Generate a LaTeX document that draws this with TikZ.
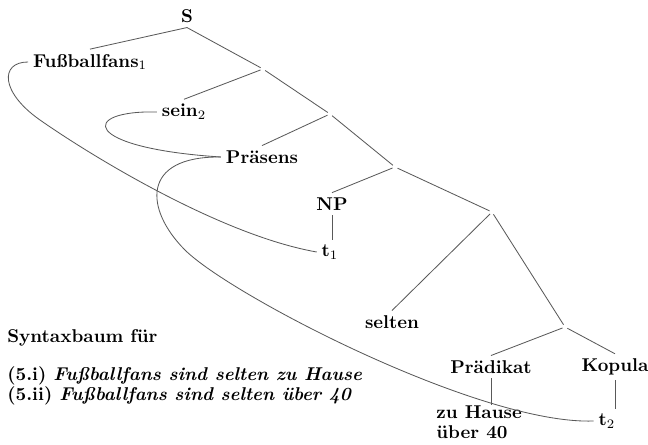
\documentclass[tikz,border=0pt]{standalone}
\begin{document}
\begin{tikzpicture}[x=0.54pt,y=-0.54pt,
  lbl/.style={inner sep=2.5pt,font=\bfseries},
  bp/.style={circle,inner sep=0pt,minimum size=2.5pt},
  edge/.style={draw=black!65,line width=0.45pt},
  mv/.style={draw=black!65,line width=0.45pt},
  captxt/.style={anchor=base west,inner sep=0pt,font=\bfseries}]
\useasboundingbox (0,0) rectangle (648,445);
% tree nodes
\node[lbl] (S) at (187,16) {S};
\node[lbl] (fans) at (90,62) {Fußballfans$_1$};
\node[bp] (n1) at (263,69) {};
\node[lbl] (sein) at (184,112) {sein$_2$};
\node[bp] (n2) at (330,114) {};
\node[lbl] (praes) at (262,157) {Präsens};
\node[bp] (n3) at (395,167) {};
\node[lbl] (NP) at (332,204) {NP};
\node[lbl] (t1) at (330,252) {t$_1$};
\node[bp] (n4) at (492,212) {};
\node[lbl] (selten) at (392,322) {selten};
\node[bp] (n5) at (565,327) {};
\node[lbl] (praed) at (491,367) {Prädikat};
\node[lbl] (kop) at (615,367) {Kopula};
\node[lbl,anchor=north west,align=left,inner sep=0pt] (zh) at (436,405) {zu Hause\\[-1pt]über 40};
\node[lbl] (t2) at (607,421) {t$_2$};
% caption
\node[captxt] (c0) at (7,342) {Syntaxbaum für};
\node[captxt] (c1) at (7,380) {(5.i) \textit{Fußballfans sind selten zu Hause}};
\node[captxt] (c2) at (7,400) {(5.ii) \textit{Fußballfans sind selten über 40}};
% edges
\draw[edge] (S.south) -- (fans.north);
\draw[edge] (S.south) -- (n1);
\draw[edge] (n1) -- (sein.north);
\draw[edge] (n1) -- (n2);
\draw[edge] (n2) -- (praes.north);
\draw[edge] (n2) -- (n3);
\draw[edge] (n3) -- (NP.north);
\draw[edge] (n3) -- (n4);
\draw[edge] (NP.south) -- (NP.south |- t1.north);
\draw[edge] (n4) -- (selten.north);
\draw[edge] (n4) -- (n5);
\draw[edge] (n5) -- (praed.north);
\draw[edge] (n5) -- (kop.north);
\draw[edge] (praed.south) -- (praed.south |- zh.north);
\draw[edge] (kop.south) -- (kop.south |- t2.north);
% movement curves
\draw[mv] (fans.west) .. controls (0,62) and (0,92) .. (40,120)
  .. controls (90,155) and (220,235) .. (t1.west);
\draw[mv] (sein.west) .. controls (80,110) and (80,148) .. (praes.west);
\draw[mv] (praes.west) .. controls (140,156) and (145,210) .. (185,250)
  .. controls (230,295) and (480,425) .. (t2.west);
\end{tikzpicture}
\end{document}
